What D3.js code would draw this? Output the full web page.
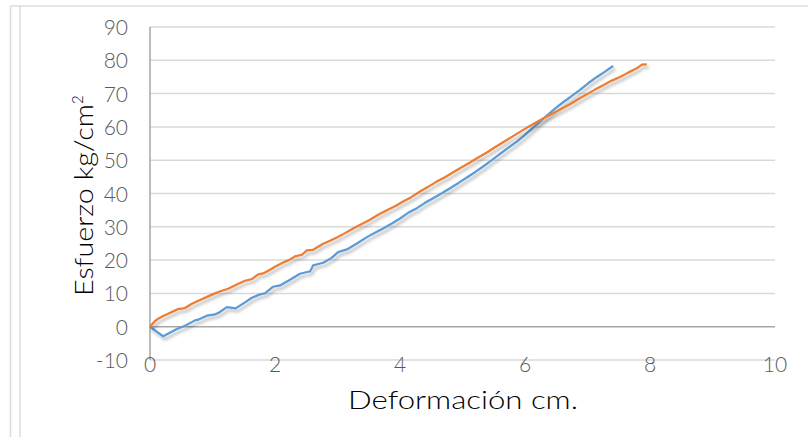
<!DOCTYPE html>
<html>
<head>
<meta charset="utf-8">
<script src="https://cdn.jsdelivr.net/npm/d3@7/dist/d3.min.js"></script>
<style>
  html, body { margin: 0; padding: 0; background: #ffffff; }
  svg { display: block; }
  text { font-family: "Lato", "Open Sans", "DejaVu Sans", sans-serif; }
</style>
</head>
<body>
<svg id="chart" width="808" height="437"></svg>
<script>
// Serie 1 (azul): deformación (cm) y esfuerzo (kg/cm²)
const deformacionA = [0, 0.21, 0.43, 0.56, 0.72, 0.77, 0.91, 1.04, 1.10, 1.23, 1.37, 1.52, 1.63, 1.76, 1.84,
  1.97, 2.08, 2.24, 2.40, 2.53, 2.56, 2.61, 2.77, 2.90, 3.01, 3.15, 3.31, 3.47, 3.60, 3.73, 3.87, 4.00,
  4.13, 4.27, 4.40, 4.53, 4.67, 4.80, 4.93, 5.07, 5.20, 5.33, 5.47, 5.60, 5.73, 5.87, 6.00, 6.13, 6.24,
  6.35, 6.48, 6.61, 6.75, 6.88, 7.01, 7.15, 7.28, 7.41];
const esfuerzoA = [0, -2.9, -0.7, 0.3, 1.9, 2.1, 3.3, 3.7, 4.2, 5.9, 5.5, 7.3, 8.7, 9.7, 10.0,
  12.0, 12.4, 14.1, 15.9, 16.5, 16.6, 18.4, 19.2, 20.6, 22.4, 23.2, 25.0, 26.9, 28.2, 29.5, 31.0, 32.5,
  34.2, 35.6, 37.2, 38.6, 40.1, 41.6, 43.1, 44.8, 46.4, 48.1, 50.0, 51.9, 53.7, 55.6, 57.6, 59.8, 61.6,
  63.4, 65.5, 67.4, 69.3, 71.1, 73.1, 75.0, 76.6, 78.3];

// Serie 2 (naranja)
const deformacionB = [0, 0.07, 0.13, 0.21, 0.29, 0.37, 0.45, 0.56, 0.67, 0.80, 0.93, 1.04, 1.15, 1.25, 1.38,
  1.52, 1.63, 1.73, 1.81, 1.92, 2.00, 2.13, 2.22, 2.32, 2.43, 2.51, 2.61, 2.77, 2.88, 2.99, 3.12, 3.25,
  3.38, 3.52, 3.65, 3.79, 3.92, 4.05, 4.18, 4.32, 4.45, 4.58, 4.72, 4.85, 4.98, 5.12, 5.25, 5.39, 5.52,
  5.65, 5.79, 5.92, 6.05, 6.19, 6.32, 6.45, 6.59, 6.72, 6.85, 6.99, 7.12, 7.25, 7.39, 7.52, 7.65, 7.79,
  7.87, 7.95];
const esfuerzoB = [0, 1.5, 2.4, 3.2, 3.9, 4.6, 5.3, 5.6, 6.9, 8.0, 9.1, 10.0, 10.8, 11.4, 12.6,
  13.8, 14.3, 15.7, 16.0, 17.1, 18.0, 19.3, 20.0, 21.1, 21.6, 22.9, 23.1, 24.9, 25.8, 26.8, 28.1, 29.5,
  30.8, 32.1, 33.6, 35.0, 36.2, 37.6, 38.9, 40.6, 42.0, 43.5, 44.9, 46.4, 47.8, 49.3, 50.8, 52.3, 53.9,
  55.4, 57.0, 58.5, 60.0, 61.5, 62.8, 64.1, 65.5, 66.8, 68.3, 69.8, 71.2, 72.5, 73.9, 75.0, 76.3, 77.6,
  78.7, 78.8];

const xTicks = [0, 2, 4, 6, 8, 10];
const yTicks = [-10, 0, 10, 20, 30, 40, 50, 60, 70, 80, 90];

const svg = d3.select("#chart");
const plotLeft = 150, plotRight = 775, plotTop = 27, plotBottom = 360;

const x = d3.scaleLinear().domain([0, 10]).range([plotLeft, plotRight]);
const y = d3.scaleLinear().domain([-10, 90]).range([plotBottom, plotTop]);

// Marco del área del gráfico
svg.append("line").attr("x1", 10.5).attr("x2", 10.5).attr("y1", 6).attr("y2", 437)
  .attr("stroke", "#dcdcdc").attr("stroke-width", 1.5);
svg.append("line").attr("x1", 20).attr("x2", 20).attr("y1", 6).attr("y2", 437)
  .attr("stroke", "#dcdcdc").attr("stroke-width", 1.5);
svg.append("line").attr("x1", 10).attr("x2", 808).attr("y1", 6).attr("y2", 6)
  .attr("stroke", "#dcdcdc").attr("stroke-width", 1.5);

// Sombra de las líneas
const defs = svg.append("defs");
const f = defs.append("filter").attr("id", "sombra")
  .attr("x", "-10%").attr("y", "-10%").attr("width", "130%").attr("height", "130%");
f.append("feDropShadow").attr("dx", 2).attr("dy", 3).attr("stdDeviation", 1.8)
  .attr("flood-color", "#000").attr("flood-opacity", 0.28);

// Líneas de cuadrícula horizontales
svg.append("g").selectAll("line").data(yTicks.filter(d => d !== 0)).join("line")
  .attr("x1", plotLeft).attr("x2", plotRight)
  .attr("y1", d => y(d)).attr("y2", d => y(d))
  .attr("stroke", "#d9d9d9").attr("stroke-width", 1.5);

// Ejes
svg.append("line").attr("x1", plotLeft).attr("x2", plotRight).attr("y1", y(0)).attr("y2", y(0))
  .attr("stroke", "#a6a6a6").attr("stroke-width", 1.5);
svg.append("line").attr("x1", plotLeft).attr("x2", plotLeft).attr("y1", y(90)).attr("y2", y(-10))
  .attr("stroke", "#a6a6a6").attr("stroke-width", 1.5);

// Etiquetas del eje Y
svg.append("g").selectAll("text").data(yTicks).join("text")
  .attr("x", 128).attr("y", d => y(d) + 8)
  .attr("text-anchor", "end")
  .attr("font-size", 21).attr("font-weight", 300).attr("fill", "#595959")
  .text(d => d);

// Etiquetas del eje X
svg.append("g").selectAll("text").data(xTicks).join("text")
  .attr("x", d => x(d)).attr("y", 372)
  .attr("text-anchor", "middle")
  .attr("font-size", 21).attr("font-weight", 300).attr("fill", "#595959")
  .text(d => d);

// Series
const linea = d3.line().x(d => x(d[0])).y(d => y(d[1]));
const serieA = deformacionA.map((d, i) => [d, esfuerzoA[i]]);
const serieB = deformacionB.map((d, i) => [d, esfuerzoB[i]]);

svg.append("path").datum(serieA).attr("d", linea)
  .attr("fill", "none").attr("stroke", "#5b9bd5").attr("stroke-width", 2.25)
  .attr("stroke-linejoin", "round").attr("filter", "url(#sombra)");
svg.append("path").datum(serieB).attr("d", linea)
  .attr("fill", "none").attr("stroke", "#ed7d31").attr("stroke-width", 2.25)
  .attr("stroke-linejoin", "round").attr("filter", "url(#sombra)");

// Títulos de los ejes
svg.append("text").attr("x", 348).attr("y", 409)
  .attr("font-size", 25).attr("font-weight", 300).attr("fill", "#000")
  .attr("textLength", 230).attr("lengthAdjust", "spacingAndGlyphs")
  .text("Deformación cm.");

const ty = svg.append("text")
  .attr("transform", "translate(93,296) rotate(-90)")
  .attr("font-size", 25).attr("font-weight", 300).attr("fill", "#000");
ty.append("tspan").attr("textLength", 192).attr("lengthAdjust", "spacingAndGlyphs")
  .text("Esfuerzo kg/cm");
ty.append("tspan").attr("font-size", 15).attr("dy", -10).text("2");
</script>
</body>
</html>
